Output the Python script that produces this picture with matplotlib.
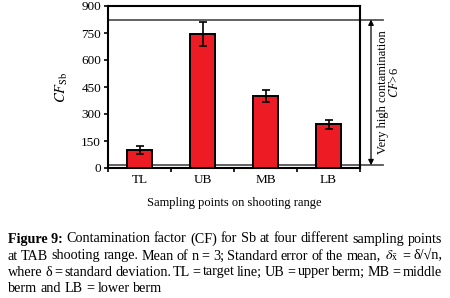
import matplotlib
matplotlib.use("Agg")
import matplotlib.pyplot as plt
import numpy as np

# data
categories = ["TL", "UB", "MB", "LB"]
cf_values = [100, 745, 398, 242]
cf_errors = [22, 68, 33, 27]
y_ticks = [0, 150, 300, 450, 600, 750, 900]
upper_limit = 825
lower_limit = 15

caption_lines = [
    ["Figure 9:", "Contamination factor (CF) for Sb at four different sampling points"],
    ["", r"at TAB shooting range. Mean of n = 3; Standard error of the mean, $\delta_{\bar{\mathrm{x}}}$ = δ/√n,"],
    ["", "where δ = standard deviation. TL = target line; UB = upper berm; MB = middle"],
    ["", "berm and LB = lower berm"],
]

plt.rcParams["font.family"] = ["Liberation Serif", "DejaVu Serif"]
plt.rcParams["mathtext.fontset"] = "stix"

W, H = 450, 298
fig = plt.figure(figsize=(W / 100, H / 100), dpi=100)
fig.patch.set_facecolor("white")
ax = fig.add_axes([108 / W, 1 - 168 / H, 252 / W, 162 / H])

x = np.arange(len(categories))
ax.bar(x, cf_values, width=0.4, color="#ED1C24", edgecolor="black", linewidth=1.4, zorder=3)
ax.errorbar(x, cf_values, yerr=cf_errors, fmt="none", ecolor="black",
            elinewidth=1.2, capsize=3, capthick=1.2, zorder=4)

ax.set_xlim(-0.5, 3.5)
ax.set_ylim(0, 900)
ax.set_yticks(y_ticks)
ax.tick_params(axis="y", direction="out", length=3, width=1.2, labelsize=9.5, pad=2)

# category labels in the middle, tick marks at the boundaries
ax.set_xticks(np.arange(-0.5, 4, 1.0))
ax.set_xticklabels([])
ax.set_xticks(x, minor=True)
ax.set_xticklabels(categories, minor=True)
ax.tick_params(axis="x", which="major", direction="out", length=3, width=1.2)
ax.tick_params(axis="x", which="minor", length=0, labelsize=9.5, pad=4)

for s in ax.spines.values():
    s.set_linewidth(1.5)

ax.set_ylabel(r"$\mathit{CF}_{\mathrm{Sb}}$", fontsize=10.5)
ax.yaxis.set_label_coords(-38 / 252, 0.5)
ax.set_xlabel("Sampling points on shooting range", fontsize=9)
ax.xaxis.set_label_coords(0.5, -(203 - 168) / 162, transform=ax.transAxes)
ax.xaxis.label.set_va("center")

# threshold lines extending out to the right of the plot
x_end = 3.5 + 23 / 63
for yv in (upper_limit, lower_limit):
    ax.plot([-0.5, x_end], [yv, yv], color="#555555", linewidth=1.3, clip_on=False, zorder=2)

ax.annotate("", xy=(3.5 + 11 / 63, lower_limit), xytext=(3.5 + 11 / 63, upper_limit),
            xycoords="data", annotation_clip=False,
            arrowprops=dict(arrowstyle="<|-|>", color="black", lw=0.9,
                            mutation_scale=8, shrinkA=0, shrinkB=0))
ax.text(3.5 + 23 / 63, 424, "Very high contamination", rotation=90,
        ha="center", va="center", fontsize=9, clip_on=False)
ax.text(3.5 + 34 / 63, 474, r"$\mathit{CF}$>6", rotation=90,
        ha="center", va="center", fontsize=9, clip_on=False)

# justified caption
renderer = fig.canvas.get_renderer()
left_px, right_px = 8, 442
line_y = [239, 256, 272, 288]
cap_size = 10.2


def text_width(s, weight="normal"):
    t = fig.text(0, 0, s, fontsize=cap_size, fontweight=weight)
    w = t.get_window_extent(renderer).width
    t.remove()
    return w


for i, (bold, rest) in enumerate(caption_lines):
    yy = 1 - line_y[i] / H
    start = left_px
    if bold:
        fig.text(left_px / W, yy, bold, fontsize=cap_size, fontweight="bold",
                 ha="left", va="center")
        start += text_width(bold + " x", "bold") - text_width("x", "bold")
    words = rest.split(" ")
    # natural start of each word inside the full line
    pos = [0.0]
    for k in range(1, len(words)):
        pos.append(text_width(" ".join(words[:k + 1])) - text_width(words[k]))
    natural = text_width(rest)
    if i == len(caption_lines) - 1:
        extra = 0.0
    else:
        extra = (right_px - start - natural) / (len(words) - 1)
    for k, w in enumerate(words):
        fig.text((start + pos[k] + k * extra) / W, yy, w, fontsize=cap_size,
                 ha="left", va="center")

fig.savefig("out.png", dpi=100, facecolor="white")
